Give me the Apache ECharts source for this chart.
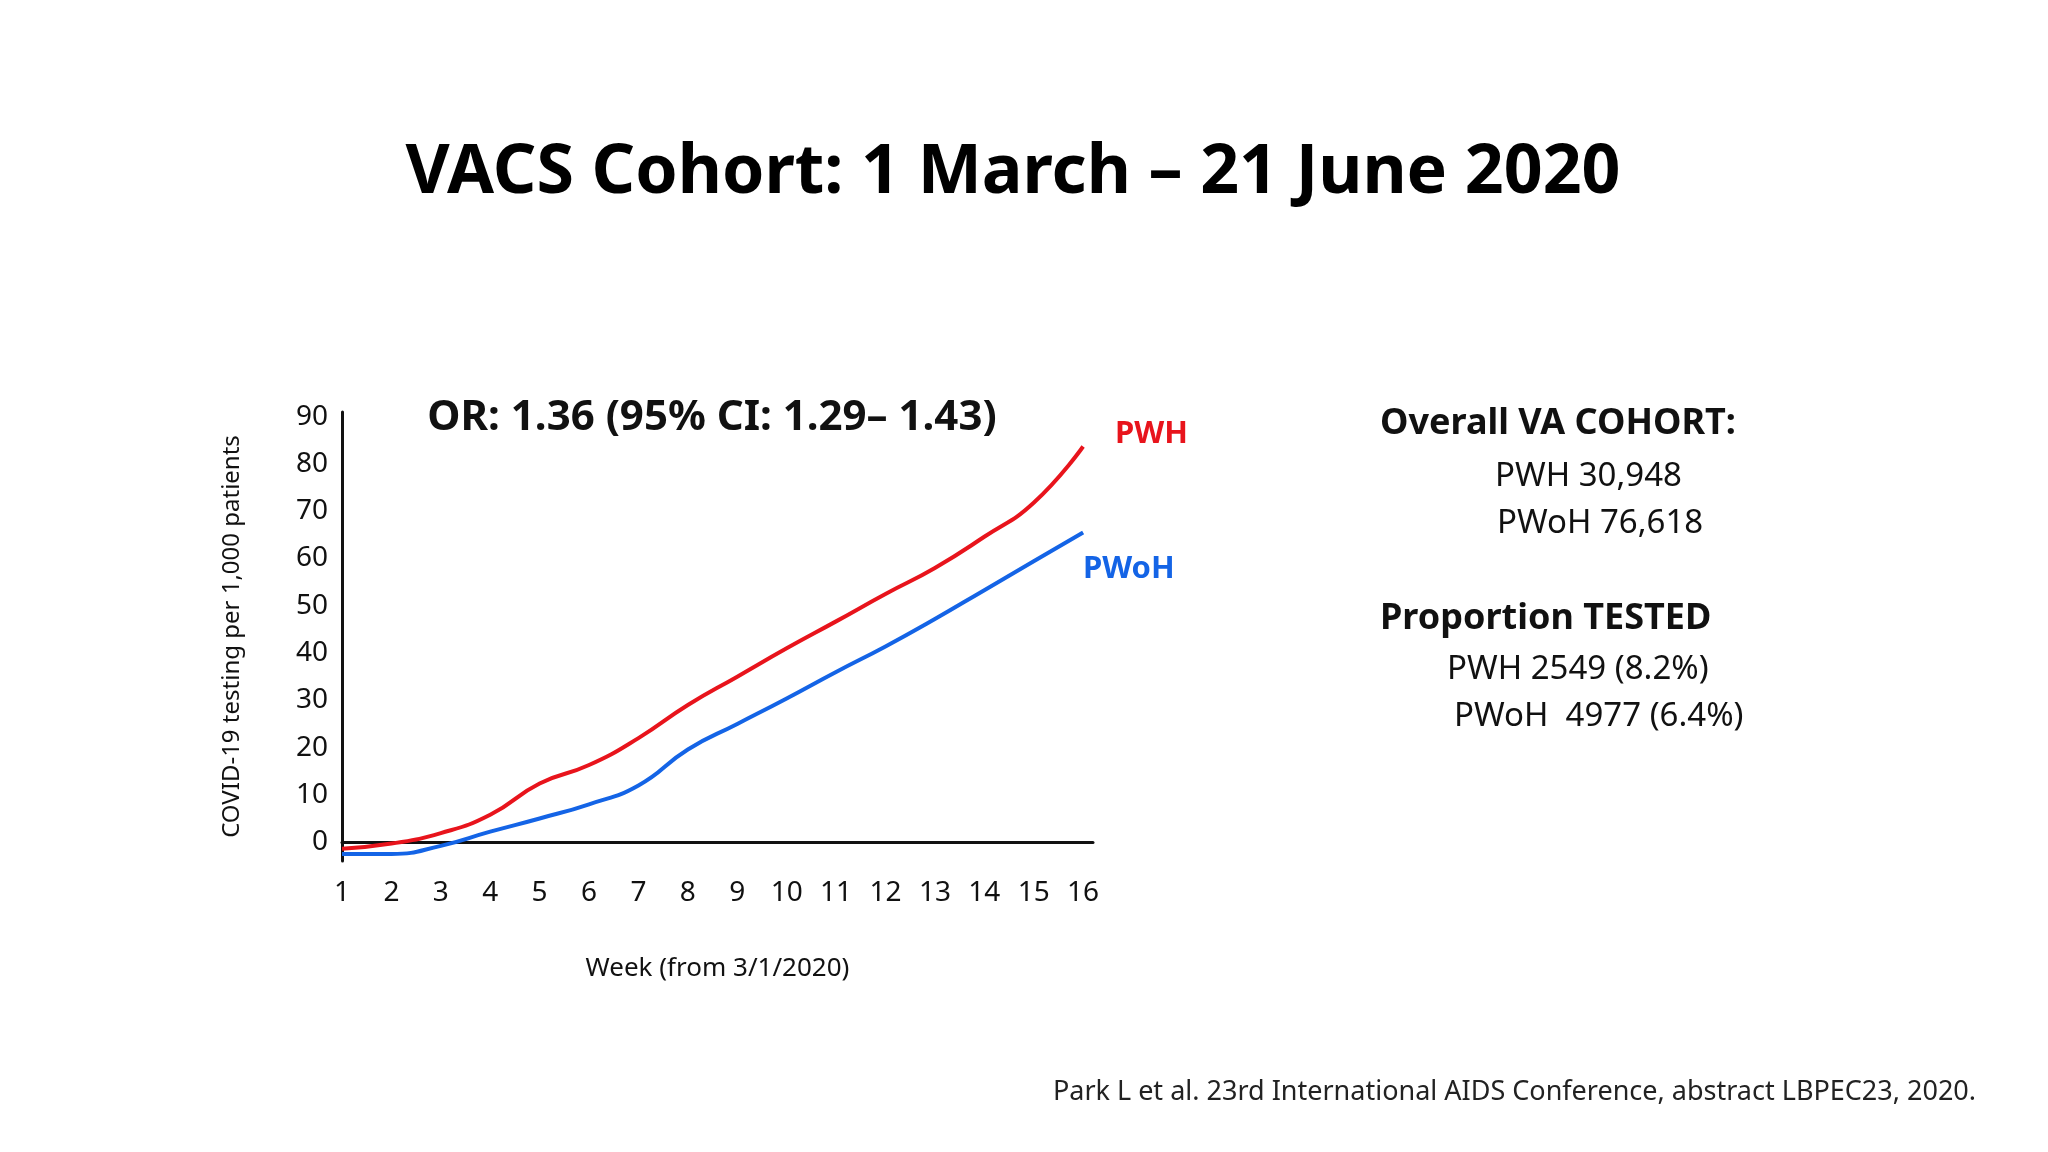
<!DOCTYPE html>
<html><head><meta charset="utf-8">
<script src="https://cdn.jsdelivr.net/npm/echarts@6/dist/echarts.min.js"></script>
<style>html,body{margin:0;padding:0;background:#fff}#c{width:2048px;height:1152px}</style>
</head><body><div id="c"></div>
<script>
const weeks = [1,2,3,4,5,6,7,8,9,10,11,12,13,14,15,16];
const yTicks = [0,10,20,30,40,50,60,70,80,90];
const pwh  = [-1.4,-0.3,1.9,5.8,12.4,16.3,22,29,35,41,46.7,52.5,58,64.6,71.8,83.7];
const pwoh = [-2.5,-2.5,-0.8,2.2,5,8,12,19.6,25,30.4,36,41.4,47.2,53.3,59.4,65.5];
const F = '"Noto Sans", "Open Sans", sans-serif';
const chart = echarts.init(document.getElementById('c'));
const T = (x,y,text,size,weight,color,align)=>({type:'text',left:undefined,x:x,y:y,style:{text:text,font:`${weight||'normal'} ${size}px ${F}`,fill:color||'#111',textAlign:align||'left',textVerticalAlign:'middle'}});
chart.setOption({
  backgroundColor:'#fff',
  animation:false,
  grid:{left:342,right:2048-1093,top:412,bottom:291},
  xAxis:{type:'value',min:1,max:16.2,
    axisLine:{show:true,lineStyle:{color:'#111',width:3}},
    axisTick:{show:false},splitLine:{show:false},
    axisLabel:{customValues:weeks,color:'#111',fontSize:28,fontFamily:F,margin:18},
    name:'Week (from 3/1/2020)',nameLocation:'middle',nameGap:95,
    nameTextStyle:{fontSize:26,fontFamily:F,color:'#111'}},
  yAxis:{type:'value',min:-4,max:91,
    axisLine:{show:true,lineStyle:{color:'#111',width:3}},
    axisTick:{show:false},splitLine:{show:false},
    axisLabel:{customValues:yTicks,color:'#111',fontSize:28,fontFamily:F,margin:14},
    name:'COVID-19 testing per 1,000 patients',nameLocation:'middle',nameGap:98,
    nameTextStyle:{fontSize:24,fontFamily:F,color:'#111'}},
  series:[
    {type:'line',data:weeks.map((w,i)=>[w,pwh[i]]),smooth:true,showSymbol:false,lineStyle:{color:'#e8141c',width:4}},
    {type:'line',data:weeks.map((w,i)=>[w,pwoh[i]]),smooth:true,showSymbol:false,lineStyle:{color:'#1464e6',width:4}}
  ],
  graphic:[
    T(1013,174,'VACS Cohort: 1 March – 21 June 2020',68,'bold','#000','center'),
    T(712,418,'OR: 1.36 (95% CI: 1.29– 1.43)',42,'bold','#111','center'),
    T(1115,434,'PWH',31,'bold','#e8141c'),
    T(1083,569,'PWoH',31,'bold','#1464e6'),
    T(1380,424,'Overall VA COHORT:',36,'bold','#111'),
    T(1495,477,'PWH 30,948',33,'normal','#111'),
    T(1497,524,'PWoH 76,618',33,'normal','#111'),
    T(1380,619,'Proportion TESTED',36,'bold','#111'),
    T(1447,670,'PWH 2549 (8.2%)',33,'normal','#111'),
    T(1454,717,'PWoH  4977 (6.4%)',33,'normal','#111'),
    T(1976,1092,'Park L et al. 23rd International AIDS Conference, abstract LBPEC23, 2020.',27,'normal','#222','right')
  ]
});
</script></body></html>
